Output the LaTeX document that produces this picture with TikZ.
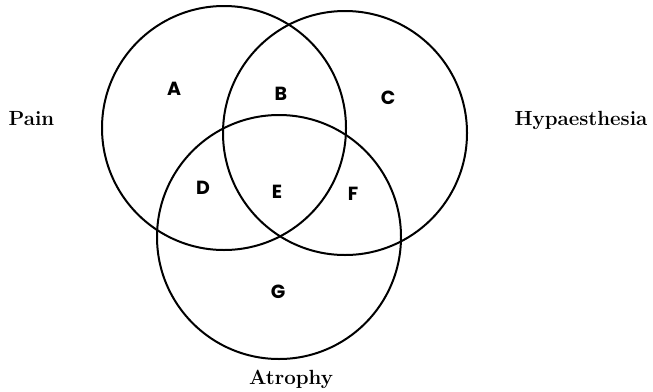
\documentclass[tikz,border=0pt]{standalone}
\usepackage{fontspec}
\setsansfont{Poppins}
\usetikzlibrary{positioning}
\tikzset{
  setcirc/.style={circle,draw,line width=2pt,minimum size=244pt,inner sep=0pt},
  regnode/.style={font=\sffamily\bfseries\fontsize{19}{19}\selectfont,inner sep=0pt},
  setname/.style={font=\bfseries\fontsize{20.5}{20.5}\selectfont,inner sep=0pt,anchor=base},
  every picture/.style={line cap=round,line join=round}
}

\begin{document}
\begin{tikzpicture}[x=1pt,y=-1pt]
  \useasboundingbox (0,0) rectangle (653,391);
  % the three sets
  \node[setcirc] (pain) at (224,128) {};
  \node[setcirc] (hyp) at (345,133) {};
  \node[setcirc] (atr) at (279,237) {};
  % regions
  \node[regnode] (a) at (174,89) {A};
  \node[regnode] (b) at (281,94) {B};
  \node[regnode] (c) at (388,98) {C};
  \node[regnode] (d) at (203,188) {D};
  \node[regnode] (e) at (277,192) {E};
  \node[regnode] (f) at (353,194) {F};
  \node[regnode] (g) at (278,292) {G};
  % set names
  \node[setname] (painlbl) at (31.5,125) {Pain};
  \node[setname] (hyplbl) at (581,125) {Hypaesthesia};
  \node[setname] (atrlbl) at (291,384) {Atrophy};
\end{tikzpicture}
\end{document}
